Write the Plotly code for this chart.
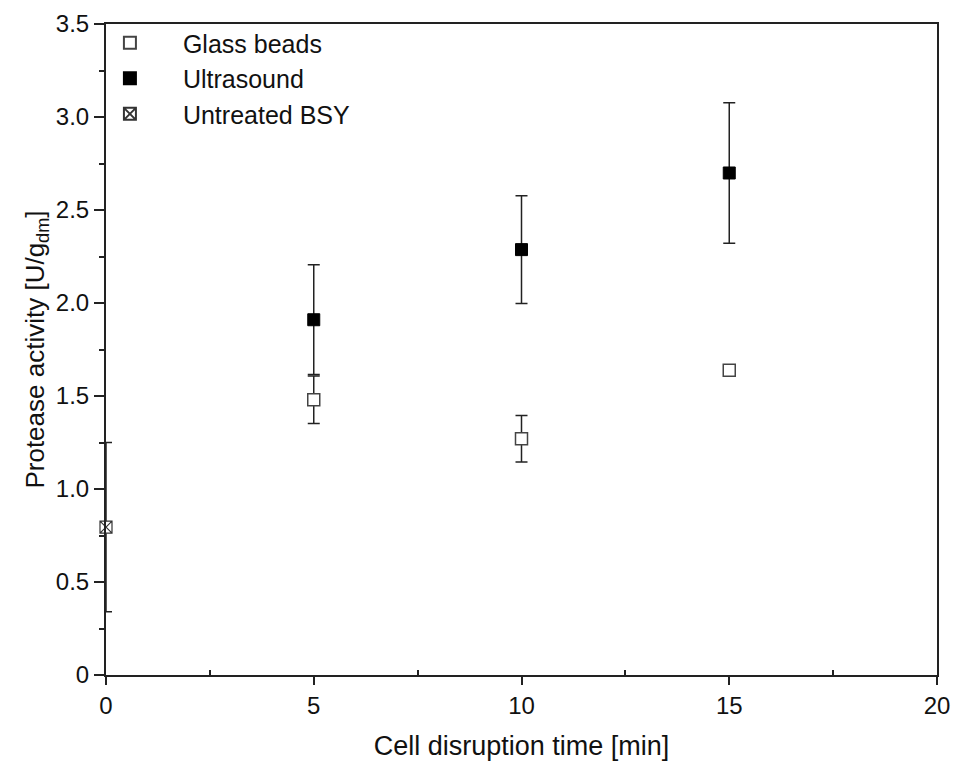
import plotly.graph_objects as go

time_glass = [5, 10, 15]
glass_vals = [1.48, 1.27, 1.638]
glass_err = [0.128, 0.125, 0.01]

time_us = [5, 10, 15]
us_vals = [1.91, 2.287, 2.699]
us_err = [0.295, 0.29, 0.378]

time_untreated = [0]
untreated_vals = [0.795]
untreated_err = [0.455]

FONT = "Liberation Sans, Arial, sans-serif"

fig = go.Figure()

def err(arr):
    return dict(type="data", array=arr, visible=True, color="#222", thickness=1.5, width=6)

fig.add_trace(go.Scatter(
    x=time_glass, y=glass_vals, mode="markers", name="Glass beads",
    marker=dict(symbol="square", size=12, color="white", line=dict(color="#444", width=1.5)),
    error_y=err(glass_err), cliponaxis=False))
fig.add_trace(go.Scatter(
    x=time_us, y=us_vals, mode="markers", name="Ultrasound",
    marker=dict(symbol="square", size=12, color="black", line=dict(color="black", width=1)),
    error_y=err(us_err), cliponaxis=False))
fig.add_trace(go.Scatter(
    x=time_untreated, y=untreated_vals, mode="markers", name="Untreated BSY",
    marker=dict(symbol="square-x", size=12, color="white", line=dict(color="#333", width=1.2)),
    error_y=err(untreated_err), cliponaxis=False))

fig.update_layout(
    width=955, height=765,
    margin=dict(l=106, r=18, t=24, b=90),
    paper_bgcolor="white", plot_bgcolor="white",
    font=dict(family=FONT, size=24, color="#111"),
    showlegend=True,
    legend=dict(x=-0.035, y=1.006, xanchor="left", yanchor="top",
                bgcolor="rgba(0,0,0,0)", font=dict(size=25, family=FONT),
                itemwidth=96, itemsizing="constant", tracegroupgap=0),
)
fig.update_xaxes(
    range=[0, 20], tickvals=[0, 5, 10, 15, 20], automargin=False,
    showline=True, linecolor="#222", linewidth=2, mirror=True,
    ticks="outside", ticklen=8, tickwidth=1.5, tickcolor="#222",
    minor=dict(tickvals=[2.5, 7.5, 12.5, 17.5], ticks="inside", ticklen=5, tickwidth=1.5, tickcolor="#222"),
    showgrid=False, zeroline=False,
    title=dict(text="Cell disruption time [min]", standoff=18, font=dict(size=27)),
    tickfont=dict(size=24),
)
fig.update_yaxes(
    range=[0, 3.5], tickvals=[0, 0.5, 1.0, 1.5, 2.0, 2.5, 3.0, 3.5], automargin=False,
    ticktext=["0", "0.5", "1.0", "1.5", "2.0", "2.5", "3.0", "3.5"],
    showline=True, linecolor="#222", linewidth=2, mirror=True,
    ticks="outside", ticklen=10, tickwidth=1.5, tickcolor="#222",
    minor=dict(tickvals=[0.25, 0.75, 1.25, 1.75, 2.25, 2.75, 3.25], ticks="outside", ticklen=5, tickwidth=1.5, tickcolor="#222"),
    showgrid=False, zeroline=False,
    title=dict(text="Protease activity [U/g<sub>dm</sub>]", standoff=4, font=dict(size=26)),
    tickfont=dict(size=24),
)

fig.write_html("out.html")
